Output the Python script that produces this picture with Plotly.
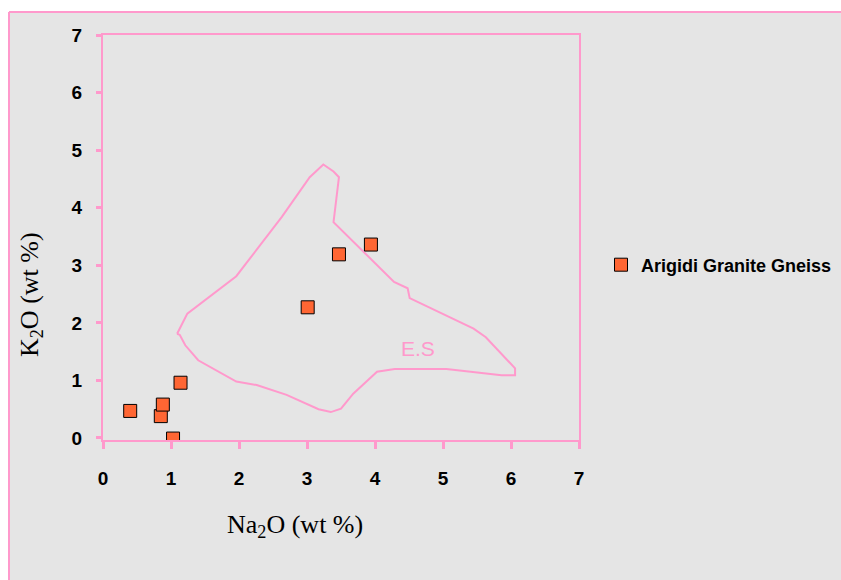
import plotly.graph_objects as go

# Sample data (Na2O, K2O in wt %)
na2o = [0.40, 0.85, 0.88, 1.03, 1.14, 3.01, 3.47, 3.94]
k2o = [0.47, 0.38, 0.58, -0.01, 0.96, 2.27, 3.19, 3.36]

# E.S field outline
es_x = [1.09, 1.24, 1.96, 2.63, 3.04, 3.24, 3.39, 3.47, 3.39, 4.28, 4.48, 4.51,
        5.45, 5.63, 6.06, 6.06, 5.86, 5.05, 4.29, 4.03, 3.68, 3.50, 3.35, 3.17,
        2.70, 2.26, 1.96, 1.40, 1.21, 1.13, 1.09]
es_y = [1.81, 2.16, 2.81, 3.84, 4.53, 4.75, 4.63, 4.53, 3.75, 2.71, 2.60, 2.43,
        1.90, 1.75, 1.21, 1.09, 1.09, 1.20, 1.20, 1.15, 0.77, 0.51, 0.45, 0.50,
        0.75, 0.92, 0.98, 1.35, 1.61, 1.79, 1.81]
es_label = ("E.S", 4.63, 1.56)

tick_vals = [0, 1, 2, 3, 4, 5, 6, 7]
tick_text = ["0", "1", "2", "3", "4", "5", "6", "7"]

PINK = "#ff99cc"
BG = "#e5e5e5"
OFF = 8  # page body margin (top/left)
W, H = 841 - OFF, 580 - OFF
# plot area in page pixels: x 103..579, y 35..440
ML = 103 - OFF
MT = 35 - OFF
MR = W - (579 - OFF)
MB = H - (440 - OFF)
PW = W - ML - MR
PH = H - MT - MB


def px_x(p):
    return (p - OFF - ML) / PW


def px_y(p):
    return (H - MB - (p - OFF)) / PH


fig = go.Figure()
fig.add_trace(go.Scatter(
    x=es_x, y=es_y, mode="lines", line=dict(color=PINK, width=2),
    showlegend=False, hoverinfo="skip"))
fig.add_trace(go.Scatter(
    x=na2o, y=k2o, mode="markers", name="Arigidi Granite Gneiss",
    marker=dict(symbol="square", size=13, color="#ff6633",
                line=dict(color="black", width=1))))

fig.add_annotation(x=es_label[1], y=es_label[2], text=es_label[0], showarrow=False,
                   font=dict(family="Liberation Sans", size=21, color=PINK))

fig.add_annotation(xref="paper", yref="paper", x=px_x(295), y=px_y(526),
                   xanchor="center", yanchor="middle",
                   text="Na<sub>2</sub>O (wt %)", showarrow=False,
                   font=dict(family="Liberation Serif", size=26, color="black"))
fig.add_annotation(xref="paper", yref="paper", x=px_x(31), y=px_y(295),
                   xanchor="center", yanchor="middle",
                   text="K<sub>2</sub>O (wt %)", showarrow=False, textangle=-90,
                   font=dict(family="Liberation Serif", size=26, color="black"))

# outer chart area: white strip top/left, pink border lines
fig.add_shape(type="rect", xref="paper", yref="paper", layer="below",
              x0=px_x(0), x1=px_x(9), y0=px_y(600), y1=px_y(0),
              fillcolor="white", line=dict(width=0))
fig.add_shape(type="rect", xref="paper", yref="paper", layer="below",
              x0=px_x(0), x1=px_x(845), y0=px_y(12), y1=px_y(0),
              fillcolor="white", line=dict(width=0))
fig.add_shape(type="line", xref="paper", yref="paper", layer="below",
              x0=px_x(9), x1=px_x(845), y0=px_y(12), y1=px_y(12),
              line=dict(color=PINK, width=2))
fig.add_shape(type="line", xref="paper", yref="paper", layer="below",
              x0=px_x(9), x1=px_x(9), y0=px_y(600), y1=px_y(12),
              line=dict(color=PINK, width=2))

tickfont = dict(family="Liberation Sans", size=19, color="black", weight="bold")
fig.update_xaxes(range=[0, 7], tickvals=tick_vals, ticktext=tick_text,
                 showgrid=False, zeroline=False, showline=True, mirror=True,
                 linecolor=PINK, linewidth=2, ticks="outside", ticklen=7,
                 tickwidth=3, tickcolor=PINK, tickfont=tickfont,
                 ticklabelstandoff=13)
fig.update_yaxes(range=[-0.035, 7], tickvals=tick_vals, ticktext=tick_text,
                 showgrid=False, zeroline=False, showline=True, mirror=True,
                 linecolor=PINK, linewidth=2, ticks="outside", ticklen=5,
                 tickwidth=3, tickcolor=PINK, tickfont=tickfont,
                 ticklabelstandoff=10)

fig.update_layout(
    width=W, height=H,
    margin=dict(l=ML, r=MR, t=MT, b=MB),
    paper_bgcolor=BG, plot_bgcolor=BG,
    legend=dict(xref="container", yref="container",
                x=(601 - OFF) / W, y=(H - (265 - OFF)) / H,
                xanchor="left", yanchor="middle",
                bgcolor="rgba(0,0,0,0)",
                font=dict(family="Liberation Sans", size=18, color="black",
                          weight="bold")),
)

fig.write_html("out.html",
               post_script="document.body.style.margin='8px 0 0 8px';"
                           "document.documentElement.style.overflow='hidden';")
